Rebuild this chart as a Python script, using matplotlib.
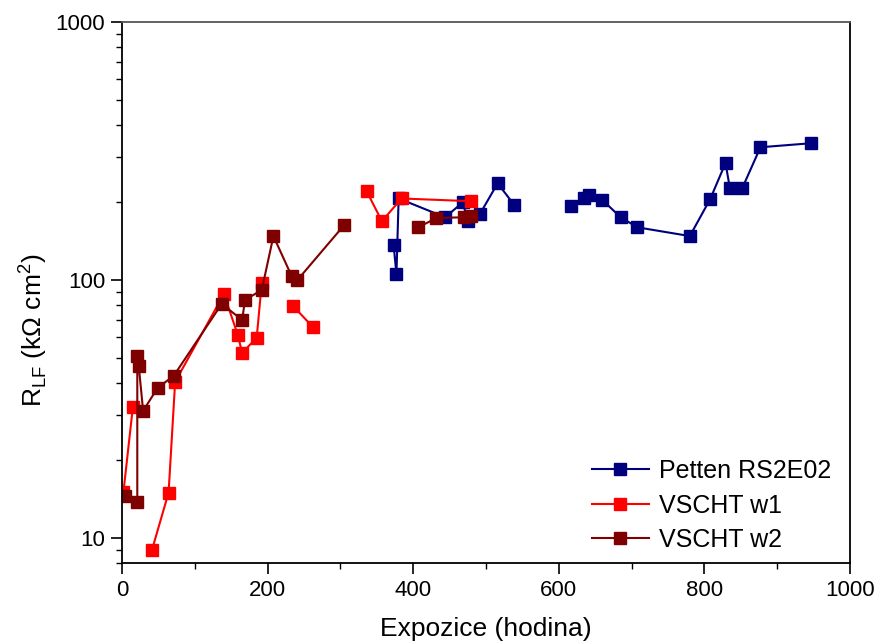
import numpy as np
import matplotlib
matplotlib.use("Agg")
import matplotlib.pyplot as plt
from matplotlib.ticker import MultipleLocator, LogLocator, FixedFormatter, FixedLocator, NullFormatter

plt.rcParams['font.family'] = ['Liberation Sans', 'DejaVu Sans']
plt.rcParams['mathtext.fontset'] = 'custom'
plt.rcParams['mathtext.rm'] = 'Liberation Sans'

nan = np.nan

# Petten RS2E02 (line breaks between 539 h and 617 h)
petten_x = [373, 377, 380, 444, 468, 475, 492, 516, 539, nan,
            617, 635, 642, 660, 685, 708, 780, 808, 829, 835, 852, 877, 947]
petten_y = [137, 105.5, 207, 175, 200, 169, 181, 237, 195, nan,
            193, 207, 213, 204, 175, 160, 148, 206, 284, 227, 227, 327, 339]

# VSCHT w1 (gaps where the line breaks)
w1_x = [2, 15, nan, 41, 64, 73, 140, 159, 165, 185, 192, nan, 235, 262, nan, 336, 357, 384, 480]
w1_y = [15.1, 32.3, nan, 8.95, 15.0, 40.3, 88.3, 61.3, 52.2, 59.7, 97.4, nan, 79.3, 65.8, nan, 221, 169, 207, 202]

# VSCHT w2
w2_x = [4, 21, 21, 23, 29, 49, 71, 137, 165, 169, 192, 208, 233, 241, 305, nan, 407, 432, 470, 480]
w2_y = [14.5, 13.8, 50.8, 46.5, 31.1, 38.2, 42.5, 80.8, 70, 83.7, 91.5, 148, 103.6, 100, 163, nan, 160, 174, 175, 177]

series = [
    ("Petten RS2E02", petten_x, petten_y, "#00007f"),
    ("VSCHT w1", w1_x, w1_y, "#ff0000"),
    ("VSCHT w2", w2_x, w2_y, "#7f0000"),
]

fig = plt.figure(figsize=(8.74, 6.42), dpi=100)
ax = fig.add_axes([122/874, 1 - 563/642, 728/874, 541/642])

for label, x, y, c in series:
    ax.plot(x, y, color=c, lw=1.5, marker='s', ms=8, mec=c, mfc=c, label=label)

ax.set_yscale('log')
ax.set_xlim(0, 1000)
ax.set_ylim(8, 1000)

ax.xaxis.set_major_locator(MultipleLocator(200))
ax.xaxis.set_minor_locator(MultipleLocator(100))
ax.yaxis.set_major_locator(FixedLocator([10, 100, 1000]))
ax.yaxis.set_major_formatter(FixedFormatter(['10', '100', '1000']))
ax.yaxis.set_minor_locator(LogLocator(base=10, subs=np.arange(2, 10)))
ax.yaxis.set_minor_formatter(NullFormatter())

ax.tick_params(which='major', direction='out', length=8, width=1.2, labelsize=16, pad=4)
ax.tick_params(which='minor', direction='out', length=4.5, width=1.0)
ax.tick_params(top=False, right=False, which='both')

for s in ax.spines.values():
    s.set_linewidth(1.3)
ax.spines['top'].set_color('#555555')

ax.set_xlabel('Expozice (hodina)', fontsize=19, labelpad=12)
ax.set_ylabel(r'R$_\mathregular{LF}$ (k$\Omega$ cm$^\mathregular{2}$)', fontsize=19)
ax.yaxis.set_label_coords(-0.100, 0.43)

ax.legend(loc='lower left', bbox_to_anchor=(0.645, 0.02), frameon=False,
          fontsize=18, numpoints=1, handlelength=2.3, handletextpad=0.4,
          labelspacing=0.42, borderpad=0, borderaxespad=0)

fig.savefig('out.png', dpi=100)
